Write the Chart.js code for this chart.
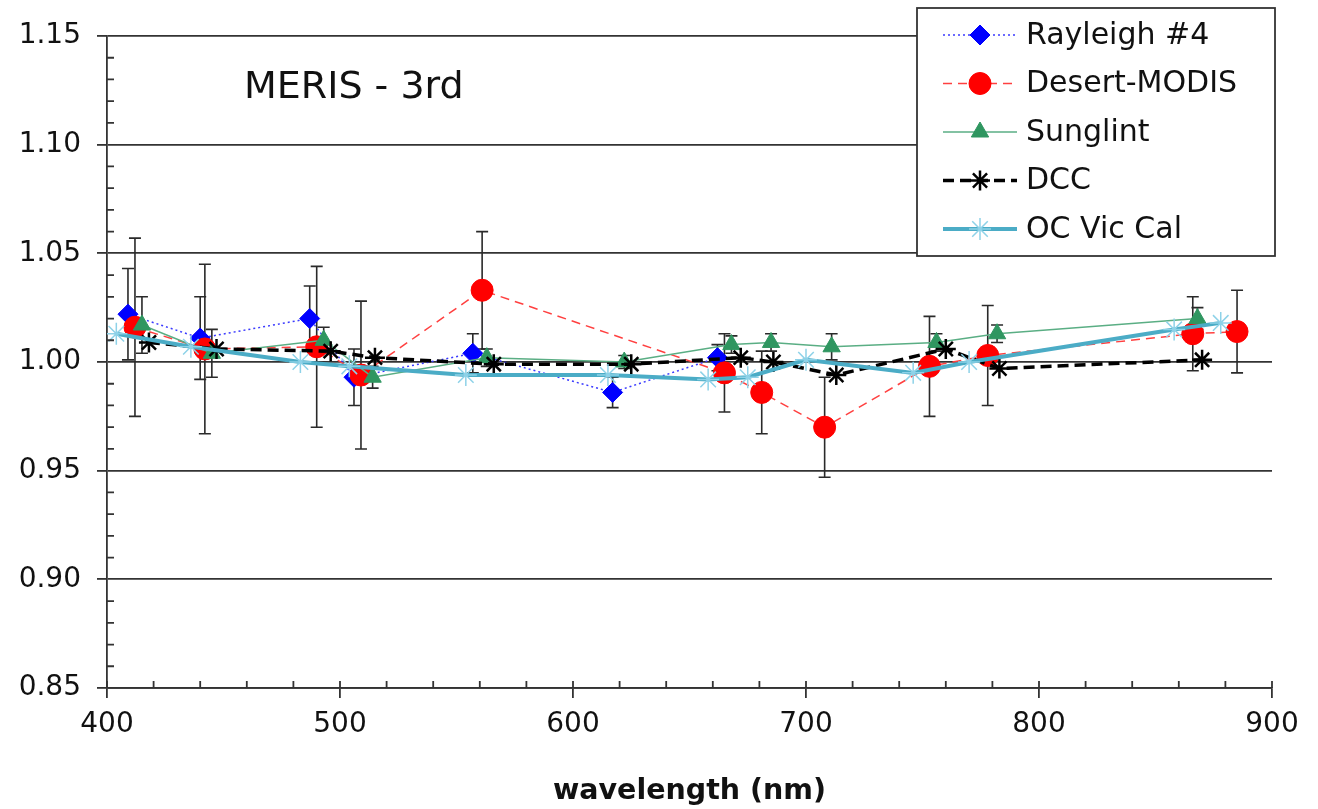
<!DOCTYPE html>
<html>
<head>
<meta charset="utf-8">
<script src="https://cdn.jsdelivr.net/npm/chart.js@4.4.1/dist/chart.umd.min.js"></script>
<style>
  body { margin: 0; background: #fff; }
</style>
</head>
<body>
<canvas id="merisChart" width="1318" height="809"></canvas>
<script>
// values
const rayleighX = [409, 440, 487, 506, 557, 617, 662];
const rayleighY = [1.022, 1.011, 1.020, 0.993, 1.004, 0.986, 1.002];
const rayleighErr = [0.021, 0.019, 0.015, 0.013, 0.009, 0.007, 0.006];

const desertX = [412, 442, 490, 509, 561, 665, 681, 708, 753, 778, 866, 885];
const desertY = [1.016, 1.006, 1.007, 0.994, 1.033, 0.995, 0.986, 0.970, 0.998, 1.003, 1.013, 1.014];
const desertErr = [0.041, 0.039, 0.037, 0.034, 0.027, 0.018, 0.019, 0.023, 0.023, 0.023, 0.017, 0.019];

const sunglintX = [415, 445, 493, 514, 563, 622, 668, 685, 711, 756, 782, 868];
const sunglintY = [1.017, 1.004, 1.010, 0.993, 1.002, 1.000, 1.008, 1.009, 1.007, 1.009, 1.013, 1.020];
const sunglintErr = [0.013, 0.011, 0.006, 0.005, 0.004, 0.003, 0.004, 0.004, 0.006, 0.004, 0.004, 0.005];

const dccX = [418, 447, 496, 515, 566, 625, 672, 686, 713, 760, 783, 870];
const dccY = [1.009, 1.006, 1.005, 1.002, 0.999, 0.999, 1.002, 1.000, 0.994, 1.006, 0.997, 1.001];

const ocX = [404, 436, 483, 504, 554, 615, 658, 675, 700, 746, 770, 858, 878];
const ocY = [1.013, 1.007, 1.000, 0.998, 0.994, 0.994, 0.992, 0.993, 1.001, 0.995, 1.000, 1.015, 1.018];

const yTicks = [0.85, 0.90, 0.95, 1.00, 1.05, 1.10, 1.15];
const xTicks = [400, 500, 600, 700, 800, 900];

function pts(xs, ys) {
    return xs.map((x, i) => ({ x: x, y: ys[i] }));
}

Chart.defaults.font.family = 'DejaVu Sans';
Chart.defaults.color = '#111';

const axisColor = '#333';

// error bars drawn under the markers
const errorBars = {
    id: 'errorBars',
    beforeDatasetsDraw(chart) {
        const ctx = chart.ctx;
        const xs = chart.scales.x, ys = chart.scales.y;
        ctx.save();
        ctx.strokeStyle = '#2a2a2a';
        ctx.lineWidth = 1.6;
        chart.data.datasets.forEach(ds => {
            if (!ds.err) return;
            ds.data.forEach((p, i) => {
                const px = xs.getPixelForValue(p.x);
                const top = ys.getPixelForValue(p.y + ds.err[i]);
                const bot = ys.getPixelForValue(p.y - ds.err[i]);
                ctx.beginPath();
                ctx.moveTo(px, top); ctx.lineTo(px, bot);
                ctx.moveTo(px - 6, top); ctx.lineTo(px + 6, top);
                ctx.moveTo(px - 6, bot); ctx.lineTo(px + 6, bot);
                ctx.stroke();
            });
        });
        ctx.restore();
    }
};

// minor ticks, title text and the boxed legend
const decorations = {
    id: 'decorations',
    afterDraw(chart) {
        const ctx = chart.ctx;
        const xs = chart.scales.x, ys = chart.scales.y;
        const area = chart.chartArea;
        ctx.save();
        ctx.strokeStyle = axisColor;
        ctx.lineWidth = 1.8;
        ctx.beginPath();
        for (let v = 85; v <= 115; v++) {
            if (v % 5 === 0) continue;
            const py = ys.getPixelForValue(v / 100);
            ctx.moveTo(area.left, py); ctx.lineTo(area.left + 7, py);
        }
        for (let v = 400; v <= 900; v += 20) {
            const px = xs.getPixelForValue(v);
            ctx.moveTo(px, area.bottom); ctx.lineTo(px, area.bottom - 7);
        }
        ctx.stroke();

        ctx.fillStyle = '#111';
        ctx.font = '38px "DejaVu Sans"';
        ctx.textBaseline = 'middle';
        ctx.textAlign = 'left';
        ctx.fillText('MERIS - 3rd', 244, 88);

        // legend box
        const bx = 917, by = 8, bw = 358, bh = 248;
        ctx.fillStyle = '#fff';
        ctx.fillRect(bx, by, bw, bh);
        ctx.strokeStyle = '#333';
        ctx.lineWidth = 1.8;
        ctx.strokeRect(bx, by, bw, bh);
        chart.data.datasets.forEach((ds, i) => {
            const cy = 35 + i * 48.5;
            ctx.setLineDash(ds.borderDash || []);
            ctx.strokeStyle = ds.borderColor;
            ctx.lineWidth = ds.borderWidth;
            ctx.beginPath();
            ctx.moveTo(943, cy); ctx.lineTo(1017, cy);
            ctx.stroke();
            ctx.setLineDash([]);
            ctx.fillStyle = ds.pointBackgroundColor;
            ctx.strokeStyle = ds.pointBorderColor;
            ctx.lineWidth = ds.pointBorderWidth;
            Chart.helpers.drawPoint(ctx, {
                pointStyle: ds.pointStyle,
                radius: ds.pointRadius,
                borderWidth: ds.pointBorderWidth,
                rotation: 0
            }, 980, cy);
            ctx.fillStyle = '#111';
            ctx.font = '30px "DejaVu Sans"';
            ctx.fillText(ds.label, 1026, cy + 1);
        });
        ctx.restore();
    }
};

const ctx = document.getElementById('merisChart').getContext('2d');
const myChart = new Chart(ctx, {
    type: 'line',
    data: {
        datasets: [{
            label: 'Rayleigh #4',
            data: pts(rayleighX, rayleighY),
            err: rayleighErr,
            borderColor: '#3a3aff',
            borderWidth: 1.5,
            borderDash: [2, 3],
            pointStyle: 'rectRot',
            pointRadius: 10,
            pointBackgroundColor: '#0000ff',
            pointBorderColor: '#0000ff',
            pointBorderWidth: 1,
            order: 5
        }, {
            label: 'Desert-MODIS',
            data: pts(desertX, desertY),
            err: desertErr,
            borderColor: '#ff4040',
            borderWidth: 1.5,
            borderDash: [9, 6],
            pointStyle: 'circle',
            pointRadius: 11,
            pointBackgroundColor: '#ff0000',
            pointBorderColor: '#ff0000',
            pointBorderWidth: 1,
            order: 4
        }, {
            label: 'Sunglint',
            data: pts(sunglintX, sunglintY),
            err: sunglintErr,
            borderColor: '#5aae84',
            borderWidth: 1.5,
            pointStyle: 'triangle',
            pointRadius: 10,
            pointBackgroundColor: '#2f9660',
            pointBorderColor: '#2f9660',
            pointBorderWidth: 1,
            order: 3
        }, {
            label: 'DCC',
            data: pts(dccX, dccY),
            borderColor: '#000',
            borderWidth: 3.5,
            borderDash: [11, 6],
            pointStyle: 'star',
            pointRadius: 10,
            pointBackgroundColor: '#000',
            pointBorderColor: '#000',
            pointBorderWidth: 2.5,
            order: 2
        }, {
            label: 'OC Vic Cal',
            data: pts(ocX, ocY),
            borderColor: '#4bacc6',
            borderWidth: 4,
            pointStyle: 'star',
            pointRadius: 11,
            pointBackgroundColor: '#8ed2e8',
            pointBorderColor: '#8ed2e8',
            pointBorderWidth: 1.5,
            order: 1
        }]
    },
    options: {
        responsive: false,
        animation: false,
        layout: { padding: { top: 36, right: 46, left: 0, bottom: 0 } },
        elements: { line: { tension: 0 } },
        plugins: {
            legend: { display: false },
            tooltip: { enabled: false }
        },
        scales: {
            x: {
                type: 'linear',
                min: 400,
                max: 900,
                afterBuildTicks: s => { s.ticks = xTicks.map(v => ({ value: v })); },
                afterFit: s => { s.height = 121; },
                grid: {
                    drawOnChartArea: false,
                    drawTicks: true,
                    tickLength: 10,
                    color: axisColor,
                    lineWidth: 1.8
                },
                border: { display: true, color: axisColor, width: 1.8 },
                ticks: { font: { size: 28 }, padding: 10, maxRotation: 0 },
                title: {
                    display: true,
                    text: 'wavelength (nm)',
                    font: { size: 28.5, weight: 'bold' },
                    padding: { top: 0, bottom: 0 }
                }
            },
            y: {
                min: 0.85,
                max: 1.15,
                afterBuildTicks: s => { s.ticks = yTicks.map(v => ({ value: v })); },
                afterFit: s => { s.width = 107; },
                grid: {
                    drawTicks: true,
                    tickLength: 10,
                    color: axisColor,
                    lineWidth: 1.8
                },
                border: { display: true, color: axisColor, width: 1.8 },
                ticks: {
                    font: { size: 28 },
                    padding: 16,
                    callback: v => v.toFixed(2)
                }
            }
        }
    },
    plugins: [errorBars, decorations]
});
</script>
</body>
</html>
